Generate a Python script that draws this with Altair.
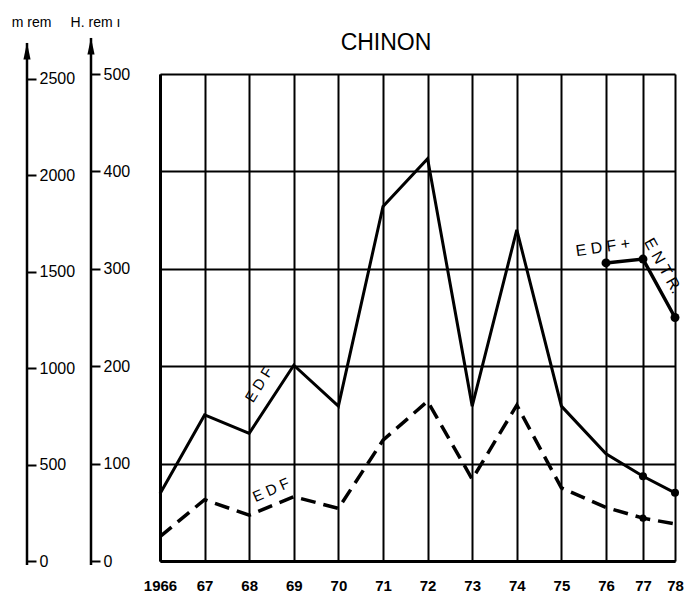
import altair as alt
import pandas as pd

# ---- data ----
years = [1966, 1967, 1968, 1969, 1970, 1971, 1972, 1973, 1974, 1975, 1976, 1977, 1978]
tick_labels = ["1966", "67", "68", "69", "70", "71", "72", "73", "74", "75", "76", "77", "78"]
edf_solid = [69, 150, 131, 201, 159, 364, 413, 159, 340, 159, 110, 87, 70]
edf_dashed = [25, 63, 47, 66, 54, 124, 164, 84, 160, 75, 55, 44, 38]
entr_years = [1976, 1977, 1978]
entr_values = [306, 310, 250]
solid_marker_years = [1977, 1978]
dashed_marker_years = [1977]
hrem_ticks = [0, 100, 200, 300, 400, 500]
mrem_ticks = [0, 500, 1000, 1500, 2000, 2500]

ann_text = ["E D F", "E D F", "E D F +", "E N T R."]
ann_year = [1968.22, 1968.49, 1975.93, 1977.62]
ann_value = [181, 73, 322, 303]
ann_angle = [302, 336, 352, 61]
ann_size = [15, 15, 16, 16]

FONT = "Liberation Sans"

df = pd.DataFrame({"year": years, "solid": edf_solid, "dashed": edf_dashed})
df_entr = pd.DataFrame({"year": entr_years, "val": entr_values})
df_ms = pd.DataFrame({"year": solid_marker_years,
                      "val": [edf_solid[years.index(y)] for y in solid_marker_years]})
df_md = pd.DataFrame({"year": dashed_marker_years,
                      "val": [edf_dashed[years.index(y)] for y in dashed_marker_years]})
df_ann = pd.DataFrame({"text": ann_text, "year": ann_year, "val": ann_value,
                       "angle": ann_angle, "size": ann_size})
one = alt.InlineData(values=[{"a": 0}])

label_expr = f"{tick_labels}[indexof({years}, datum.value)]"

X = alt.X(
    "year:Q",
    scale=alt.Scale(domain=[1966, 1976, 1977, 1978], range=[0, 446, 483, 515],
                    nice=False, zero=False),
    axis=alt.Axis(values=years, labelExpr=label_expr, grid=True, gridColor="black",
                  gridWidth=2, gridOpacity=1, domainColor="black", domainWidth=3,
                  ticks=False, labelPadding=17, labelFontSize=15, labelFont=FONT,
                  labelFontWeight="bold", labelColor="black", labelFlush=False,
                  labelOverlap=False, labelBound=False, title=None),
)
Xp = alt.X("year:Q")

def yscale(top=500):
    return alt.Scale(domain=[0, top], nice=False, zero=True)

# grid / frame layer
grid = alt.Chart(df).mark_line(opacity=0).encode(
    x=X,
    y=alt.Y("solid:Q", scale=yscale(), axis=alt.Axis(
        values=hrem_ticks, orient="left", labels=False, ticks=False, domain=True,
        domainWidth=3, domainColor="black", grid=True, gridColor="black",
        gridWidth=2, gridOpacity=1, title=None)),
)

def side_axis(values, offset, title):
    return alt.Axis(
        values=values, orient="right", offset=offset, format="d",
        labelFont=FONT, labelFontSize=16, labelColor="black", labelAlign="left",
        labelBaseline="middle", labelPadding=3, ticks=True, tickSize=9, tickWidth=2,
        tickColor="black", domain=False, grid=False, labelOverlap=False,
        labelBound=False, labelFlush=False,
        title=title, titleAngle=0, titleX=4, titleY=-45, titleAlign="center",
        titleBaseline="bottom", titleFont=FONT, titleFontSize=14,
        titleFontWeight="normal", titleColor="black",
    )

hrem_axis = alt.Chart(df).mark_line(opacity=0).encode(
    x=Xp, y=alt.Y("solid:Q", scale=yscale(),
                  axis=side_axis(hrem_ticks, -584, "H. rem ı")))
mrem_axis = alt.Chart(df).mark_line(opacity=0).encode(
    x=Xp, y=alt.Y("solid:Q", scale=yscale(2525),
                  axis=side_axis(mrem_ticks, -648, "m rem")))

arrow_path = "M0,-1L0.42,1L-0.42,1Z"
def axis_line(xpix, top):
    line = alt.Chart(one).mark_rule(color="black", strokeWidth=2.5).encode(
        x=alt.value(xpix), y=alt.value(top), y2=alt.value(491))
    head = alt.Chart(one).mark_point(shape=arrow_path, filled=True, size=289,
                                     color="black", opacity=1, strokeWidth=0).encode(
        x=alt.value(xpix), y=alt.value(top + 8))
    return [line, head]

title = alt.Chart(one).mark_text(text="CHINON", font=FONT, fontSize=23, color="black",
                                 align="center", baseline="alphabetic").encode(
    x=alt.value(226), y=alt.value(-24))

solid = alt.Chart(df).mark_line(color="black", strokeWidth=3).encode(
    x=Xp, y=alt.Y("solid:Q", scale=yscale(), axis=None))
dashed = alt.Chart(df).mark_line(color="black", strokeWidth=3.5, strokeDash=[15, 8]).encode(
    x=Xp, y=alt.Y("dashed:Q", scale=yscale(), axis=None))
entr = alt.Chart(df_entr).mark_line(color="black", strokeWidth=3.5).encode(
    x=Xp, y=alt.Y("val:Q", scale=yscale(), axis=None))
entr_pts = alt.Chart(df_entr).mark_circle(color="black", size=80, opacity=1).encode(
    x=Xp, y=alt.Y("val:Q", scale=yscale(), axis=None))
ms_pts = alt.Chart(df_ms).mark_circle(color="black", size=65, opacity=1).encode(
    x=Xp, y=alt.Y("val:Q", scale=yscale(), axis=None))
md_pts = alt.Chart(df_md).mark_circle(color="black", size=50, opacity=1).encode(
    x=Xp, y=alt.Y("val:Q", scale=yscale(), axis=None))
ann = alt.Chart(df_ann).mark_text(color="black", font=FONT, align="center",
                                  baseline="middle").encode(
    x=Xp, y=alt.Y("val:Q", scale=yscale(), axis=None),
    text="text:N", angle=alt.Angle("angle:Q", scale=None),
    size=alt.Size("size:Q", scale=None, legend=None))

layers = [grid, hrem_axis, mrem_axis] + axis_line(-133, -31) + axis_line(-69, -36) + \
         [title, solid, dashed, entr, entr_pts, ms_pts, md_pts, ann]

chart = alt.layer(*layers).resolve_scale(y="independent").properties(
    width=515, height=487,
    autosize=alt.AutoSizeParams(type="none"),
    padding={"left": 152, "top": 66, "right": 11, "bottom": 31},
).configure_view(stroke=None).configure(background="white")

chart.save("out.html", embed_options={"renderer": "svg", "actions": False})
